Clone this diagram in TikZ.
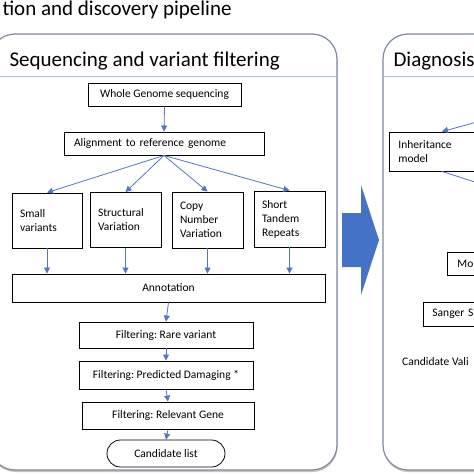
\documentclass[tikz,border=0pt]{standalone}
\usepackage{fontspec}
\setmainfont{Carlito}
\usetikzlibrary{arrows.meta,shadows}
\frenchspacing

\definecolor{flowblue}{RGB}{84,118,192}
\definecolor{panelgray}{RGB}{125,137,160}
\definecolor{headblue}{RGB}{170,188,216}
\definecolor{bigblue}{RGB}{68,114,196}

\begin{document}
\begin{tikzpicture}[x=1pt, y=-1pt,
    every node/.style={font=\fontsize{11.5}{14}\selectfont},
    box/.style={draw, line width=0.9pt, inner sep=0pt, align=center},
    leftbox/.style={draw, line width=0.9pt, inner ysep=0pt, inner xsep=8pt, align=left, text width=#1},
    panel/.style={draw=panelgray, line width=1.2pt, fill=white, rounded corners=25pt,
        drop shadow={shadow xshift=0.5pt, shadow yshift=-2pt, opacity=0.45}},
    heading/.style={anchor=base west, font=\fontsize{21}{25}\selectfont},
    flow/.style={draw=flowblue, line width=0.8pt, -{Triangle[length=6pt, width=6pt]}}]
	\useasboundingbox (0,0) rectangle (474,474);
	\clip (0,0) rectangle (474,474);

	% panels
	\draw[panel] (-10,34) rectangle (337,470);
	\draw[panel] (383,34) rectangle (600,470);
	\draw[headblue, line width=0.8pt] (-10,76) -- (337,76);
	\draw[headblue, line width=0.8pt] (383,76) -- (600,76);
	\node[heading] (pipe) at (-1,15) {tion and discovery pipeline};
	\node[heading] (seqtitle) at (6,66) {Sequencing and variant filtering};
	\node[heading] (diagtitle) at (390,66) {Diagnosis};

	% big arrow between panels
	\fill[bigblue] (342,213) -- (361,213) -- (361,185) -- (379,240) -- (361,295) -- (361,267) -- (342,267) -- cycle;

	% left panel
	\node[box, minimum width=153pt, minimum height=23pt] (wgs) at (164.5,94.5) {Whole Genome sequencing};
	\node[leftbox=180pt, inner xsep=10pt, minimum height=23pt] (align) at (164,143.5) {Alignment to reference genome};
	\node[leftbox=54pt, minimum height=55pt] (small) at (47,220.5) {Small\\variants};
	\node[leftbox=55pt, minimum height=55pt] (sv) at (125.5,220) {Structural\\Variation};
	\node[leftbox=55pt, minimum height=56pt] (cnv) at (207.5,220) {Copy\\Number\\Variation};
	\node[leftbox=55pt, minimum height=56pt] (str) at (289.5,219) {Short\\Tandem\\Repeats};
	\node[box, minimum width=313pt, minimum height=28pt] (annot) at (168.5,288) {Annotation};
	\node[box, minimum width=174pt, minimum height=26pt] (rare) at (166,335) {Filtering: Rare variant};
	\node[box, minimum width=174pt, minimum height=28pt] (dmg) at (166,375) {Filtering: Predicted Damaging *};
	\node[box, minimum width=172pt, minimum height=27pt] (gene) at (168,415.5) {Filtering: Relevant Gene};
	\node[box, line width=0.8pt, rounded corners=13.5pt, minimum width=118pt, minimum height=27pt] (cand) at (166,453.5) {Candidate list};

	\draw[flow] (wgs.south) -- (align.north);
	\draw[flow] (align.south) -- (small.north);
	\draw[flow] (align.south) -- (sv.north);
	\draw[flow] (align.south) -- (cnv.north);
	\draw[flow] (align.south) -- (str.north);
	\draw[flow] (small.south) -- (small.south |- annot.north);
	\draw[flow] (sv.south) -- (sv.south |- annot.north);
	\draw[flow] (cnv.south) -- (cnv.south |- annot.north);
	\draw[flow] (str.south) -- (str.south |- annot.north);
	\draw[flow] (annot.south) -- (rare.north);
	\draw[flow] (rare.south) -- (dmg.north);
	\draw[flow] (dmg.south) -- (gene.north);
	\draw[flow] (gene.south) -- (cand.north);

	% right panel
	\node[leftbox=113pt, inner xsep=9pt, minimum height=39pt, anchor=west] (inh) at (389,151.5) {Inheritance\\model};
	\node[leftbox=60pt, inner xsep=10pt, minimum height=23pt, anchor=west] (mo) at (447,263.5) {Mo};
	\node[leftbox=80pt, inner xsep=9pt, minimum height=24pt, anchor=west] (sanger) at (423,314) {Sanger S};
	\node[anchor=west, inner sep=0pt] (valid) at (402,362) {Candidate Vali};
	\coordinate (inhin) at (500,115.7);
	\coordinate (inhout) at (500,190);
	\draw[flow] (inhin) -- ([xshift=53pt]inh.north west);
	\draw[draw=flowblue, line width=0.8pt] ([xshift=53pt]inh.south west) -- (inhout);
\end{tikzpicture}
\end{document}
